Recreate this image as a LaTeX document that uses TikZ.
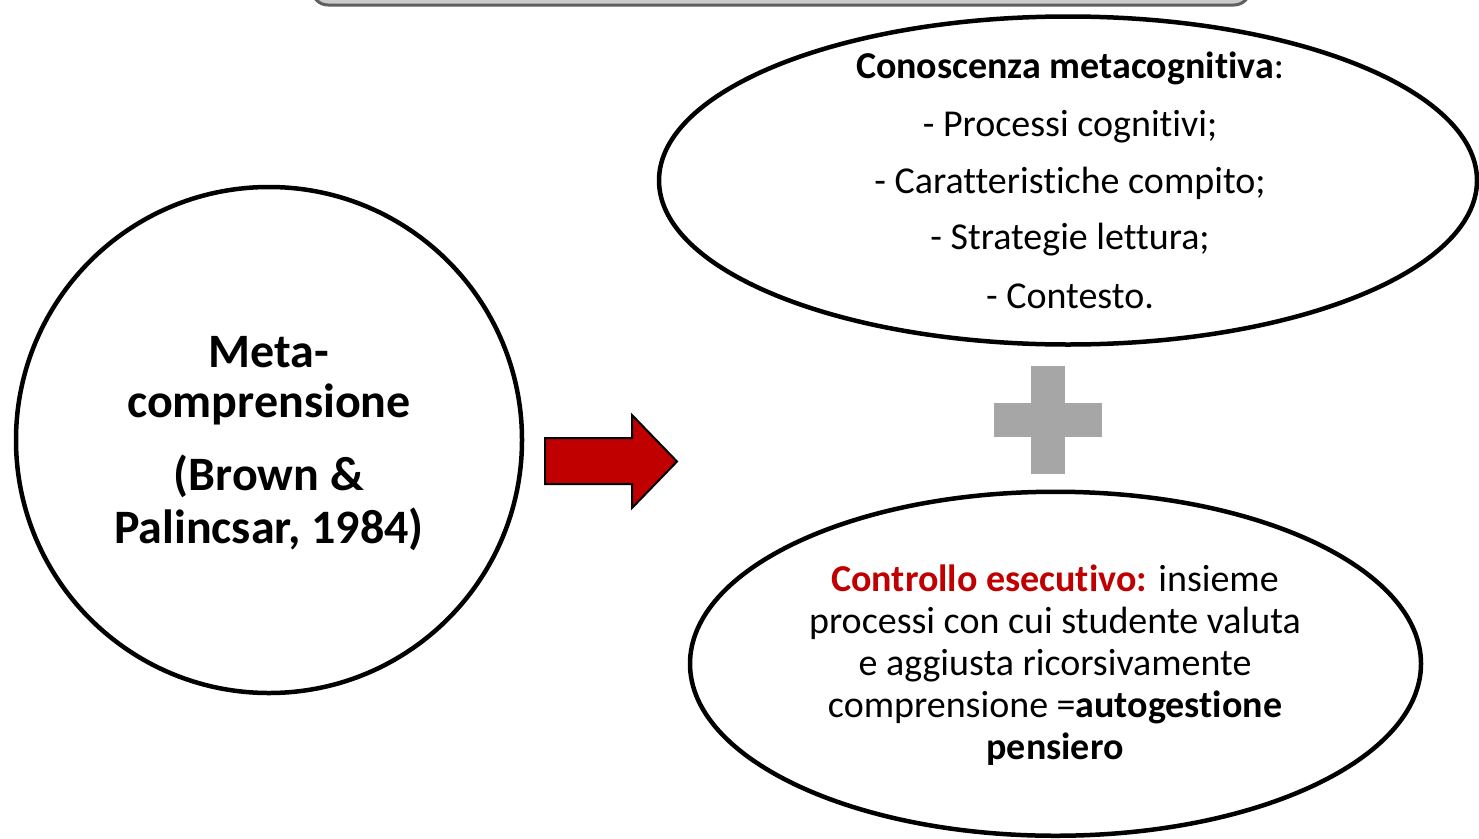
\documentclass[tikz,border=0pt]{standalone}
\usepackage{fontspec}
\setmainfont{Carlito}[Ligatures={NoCommon,NoRare,NoContextual}]
\usetikzlibrary{shapes.geometric}
\definecolor{darkred}{HTML}{C00000}
\definecolor{plusgray}{HTML}{A6A6A6}
\definecolor{barfill}{HTML}{CBCBCB}
\definecolor{barline}{HTML}{5F5F5F}
\begin{document}
\begin{tikzpicture}[x=1pt,y=-1pt,
  outline/.style={draw=black,line width=4.5pt,inner sep=0pt},
  bigtext/.style={font=\fontsize{48}{50}\selectfont\bfseries,anchor=base,inner sep=0pt},
  midtext/.style={font=\fontsize{38}{42}\selectfont,anchor=base,inner sep=0pt}]
\useasboundingbox (0,0) rectangle (1479,838);
% top bar (partially visible)
\draw[fill=barfill,draw=barline,line width=3pt,rounded corners=16pt] (312,-60) rectangle (1250,5);
% main shapes
\node[outline,circle,minimum size=506pt] (meta) at (269,440) {};
\node[outline,ellipse,minimum width=818pt,minimum height=328pt] (know) at (1068,180.5) {};
\node[outline,ellipse,minimum width=731pt,minimum height=344pt] (ctrl) at (1055.5,663.75) {};
% circle text
\node[bigtext] (m1) at (269,367) {Meta-};
\node[bigtext] (m2) at (269,417) {comprensione};
\node[bigtext] (m3) at (269,490) {(Brown \&};
\node[bigtext] (m4) at (269,543) {Palincsar, 1984)};
% top ellipse text
\node[midtext] (k1) at (1070,78) {\textbf{Conoscenza metacognitiva}:};
\node[midtext] (k2) at (1070,136) {- Processi cognitivi;};
\node[midtext] (k3) at (1070,193) {- Caratteristiche compito;};
\node[midtext] (k4) at (1070,249) {- Strategie lettura;};
\node[midtext] (k5) at (1070,308) {- Contesto.};
% bottom ellipse text
\node[midtext] (c1) at (1055,591) {{\bfseries\color{darkred}Controllo esecutivo:} insieme};
\node[midtext] (c2) at (1055,633) {processi con cui studente valuta};
\node[midtext] (c3) at (1055,675) {e aggiusta ricorsivamente};
\node[midtext] (c4) at (1055,717) {comprensione =\textbf{autogestione}};
\node[midtext] (c5) at (1055,759) {\textbf{pensiero}};
% block arrow
\draw[fill=darkred,draw=black,line width=2pt,line join=miter]
  (545,438) -- (632,438) -- (632,415) -- (677,461.5) -- (632,508) -- (632,484) -- (545,484) -- cycle;
% plus sign
\fill[plusgray] (1031,366) rectangle (1065,474);
\fill[plusgray] (994,403) rectangle (1102,437);
\end{tikzpicture}
\end{document}
